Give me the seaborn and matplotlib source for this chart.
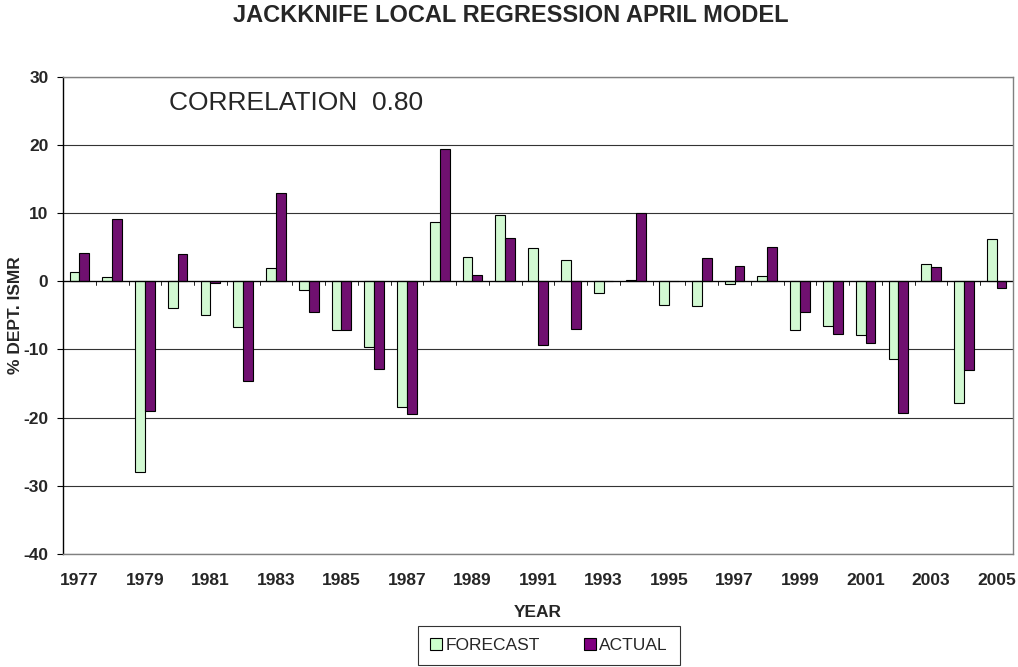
import pandas as pd
import matplotlib
matplotlib.use('Agg')
import matplotlib.pyplot as plt
import seaborn as sns
from matplotlib.patches import Patch

# data
years = [str(y) for y in range(1977, 2006)]
forecast = [1.4, 0.6, -27.9, -3.9, -4.9, -6.7, 1.9, -1.3, -7.1, -9.6,
            -18.5, 8.7, 3.6, 9.7, 4.9, 3.1, -1.7, 0.15, -3.5, -3.6,
            -0.4, 0.7, -7.2, -6.6, -7.9, -11.4, 2.6, -17.9, 6.2]
actual = [4.1, 9.2, -19.0, 4.0, -0.25, -14.6, 13.0, -4.5, -7.1, -12.8,
          -19.5, 19.4, 0.9, 6.3, -9.3, -7.0, 0.0, 10.0, 0.0, 3.4,
          2.2, 5.0, -4.5, -7.8, -9.0, -19.3, 2.1, -13.0, -1.0]
series = ['FORECAST', 'ACTUAL']
colors = {'FORECAST': '#CCFFCC', 'ACTUAL': '#800080'}

df = pd.DataFrame({'YEAR': years, 'FORECAST': forecast, 'ACTUAL': actual})
df = df.melt(id_vars='YEAR', var_name='series', value_name='value')

sns.set_style('white')
plt.rcParams['font.family'] = ['Liberation Sans', 'DejaVu Sans']

fs = 12.5

fig = plt.figure(figsize=(10.18, 6.67), dpi=100)
ax = fig.add_axes([0.0619, 0.1694, 0.9332, 0.7156])

sns.barplot(data=df, x='YEAR', y='value', hue='series', hue_order=series,
            palette=colors, width=0.6, edgecolor='black', linewidth=0.8,
            ax=ax, legend=False)

ax.set_ylim(-40, 30)
ax.set_xlim(-0.5, len(years) - 0.5)
ax.set_yticks(range(-40, 31, 10))
ax.set_yticklabels([str(v) for v in range(-40, 31, 10)], fontsize=fs, fontweight='bold')
ax.yaxis.grid(True, color='#333333', linewidth=0.8)
ax.set_axisbelow(True)
ax.axhline(0, color='black', linewidth=0.9, zorder=1)

# small tick marks on the zero line between categories
for i in range(len(years) + 1):
    ax.plot([i - 0.5, i - 0.5], [0, -0.6], color='black', linewidth=0.6, zorder=1)

ax.set_xticks(range(0, len(years), 2))
ax.set_xticklabels(years[::2], fontsize=fs, fontweight='bold')
ax.tick_params(axis='x', length=0, pad=14)
ax.tick_params(axis='y', length=4.5, left=True, color='black', width=0.8, pad=6)

for s in ax.spines.values():
    s.set_color('#808080')
    s.set_linewidth(1.0)
ax.spines['left'].set_color('black')

ax.set_xlabel('YEAR', fontsize=fs, fontweight='bold', labelpad=12)
ax.set_ylabel('% DEPT. ISMR', fontsize=fs, fontweight='bold', labelpad=0)

ax.text(2.73, 26.1, 'CORRELATION  0.80', fontsize=19, va='center', ha='left')

fig.text(0.502, 1 - 16 / 667, 'JACKKNIFE LOCAL REGRESSION APRIL MODEL',
         fontsize=17, fontweight='bold', ha='center', va='center')

handles = [Patch(facecolor=colors[s], edgecolor='black', linewidth=0.8, label=s) for s in series]
leg = fig.legend(handles=handles, loc='upper center', ncol=2,
                 bbox_to_anchor=(549 / 1018, 1 - 626 / 667), fontsize=fs,
                 frameon=True, fancybox=False, edgecolor='black',
                 handlelength=0.7, handleheight=0.7, handletextpad=0.2,
                 columnspacing=2.5, borderpad=0.7, borderaxespad=0)
leg.get_frame().set_linewidth(0.8)

fig.savefig('out.png', dpi=100)
